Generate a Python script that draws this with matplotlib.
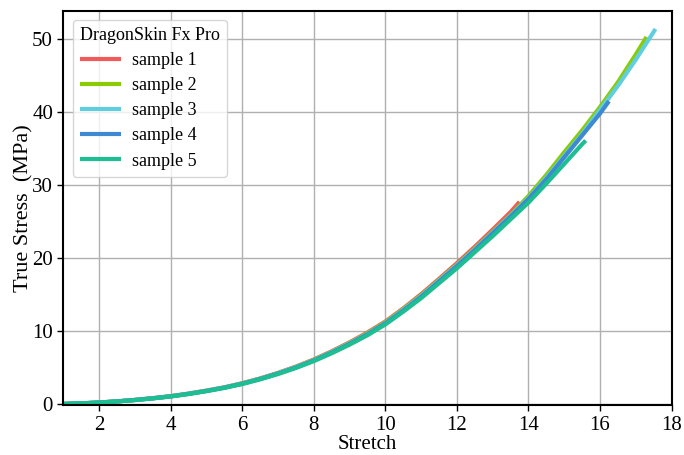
import matplotlib
matplotlib.use('Agg')
import matplotlib.pyplot as plt

plt.rcParams['font.family'] = ['Liberation Serif', 'DejaVu Serif']

# stretch grid shared by all samples (step 0.5), plus each sample's end point
stretch_grid = [1.0, 1.5, 2.0, 2.5, 3.0, 3.5, 4.0, 4.5, 5.0, 5.5, 6.0, 6.5, 7.0,
                7.5, 8.0, 8.5, 9.0, 9.5, 10.0, 10.5, 11.0, 11.5, 12.0, 12.5,
                13.0, 13.5, 14.0, 14.5, 15.0, 15.5, 16.0, 16.5, 17.0, 17.5]

labels = ['sample 1', 'sample 2', 'sample 3', 'sample 4', 'sample 5']
colors = ['#F05A5A', '#8ACB05', '#5FCFE0', '#3F88D2', '#1DBE92']

s1_stress = [0.0, 0.08, 0.2, 0.36, 0.56, 0.79, 1.07, 1.42, 1.83, 2.28, 2.84, 3.5,
             4.26, 5.12, 6.1, 7.22, 8.45, 9.8, 11.3, 13.1, 15.05, 17.15, 19.3,
             21.55, 23.9, 26.3]
s1_end = (13.75, 27.7)

s2_stress = [0.0, 0.08, 0.2, 0.35, 0.55, 0.79, 1.06, 1.41, 1.81, 2.26, 2.82, 3.47,
             4.22, 5.08, 6.04, 7.15, 8.36, 9.7, 11.2, 13.0, 14.9, 17.0, 19.1,
             21.3, 23.6, 25.9, 28.5, 31.4, 34.5, 37.5, 40.7, 44.1, 47.9]
s2_end = (17.3, 50.3)

s3_stress = [0.0, 0.08, 0.2, 0.35, 0.55, 0.78, 1.05, 1.4, 1.8, 2.25, 2.8, 3.45,
             4.2, 5.05, 6.0, 7.1, 8.3, 9.6, 11.1, 12.9, 14.8, 16.9, 19.0, 21.2,
             23.5, 25.8, 28.2, 31.0, 34.0, 37.0, 40.3, 43.6, 47.2, 51.0]
s3_end = (17.55, 51.4)

s4_stress = [0.0, 0.08, 0.2, 0.35, 0.54, 0.77, 1.04, 1.38, 1.78, 2.23, 2.77, 3.42,
             4.16, 5.0, 5.95, 7.04, 8.24, 9.55, 11.05, 12.8, 14.7, 16.8, 18.9,
             21.1, 23.4, 25.7, 28.1, 30.8, 33.8, 36.8, 39.8]
s4_end = (16.25, 41.5)

s5_stress = [0.0, 0.08, 0.19, 0.34, 0.53, 0.76, 1.02, 1.36, 1.75, 2.2, 2.73, 3.37,
             4.1, 4.93, 5.87, 6.95, 8.13, 9.42, 10.9, 12.65, 14.5, 16.55, 18.6,
             20.8, 23.0, 25.3, 27.6, 30.2, 32.9, 35.6]
s5_end = (15.6, 36.1)

samples = [(s1_stress, s1_end), (s2_stress, s2_end), (s3_stress, s3_end),
           (s4_stress, s4_end), (s5_stress, s5_end)]

fig = plt.figure(figsize=(6.84, 4.55), dpi=100)
ax = fig.add_axes([0.0928, 0.109, 0.889, 0.8675])

for (stress, end), label, color in zip(samples, labels, colors):
    x = stretch_grid[:len(stress)] + [end[0]]
    y = stress + [end[1]]
    ax.plot(x, y, color=color, lw=3, label=label, solid_capstyle='butt')

ax.set_xlim(1, 18)
ax.set_ylim(-0.2, 53.9)
ax.set_xticks([2, 4, 6, 8, 10, 12, 14, 16, 18])
ax.set_yticks([0, 10, 20, 30, 40, 50])
ax.tick_params(labelsize=15, length=4, width=1)
ax.grid(True, color='#b0b0b0', lw=1)
ax.set_axisbelow(True)
for sp in ax.spines.values():
    sp.set_linewidth(1.5)

ax.set_xlabel('Stretch', fontsize=15, labelpad=0)
ax.set_ylabel('True Stress  (MPa)', fontsize=16, labelpad=-1)

leg = ax.legend(title='DragonSkin Fx Pro', loc='upper left', fontsize=13,
                title_fontsize=13, handlelength=2.3, borderpad=0.4,
                labelspacing=0.45, handletextpad=0.6)
leg._legend_box.align = 'left'

plt.savefig('out.png', dpi=100)
